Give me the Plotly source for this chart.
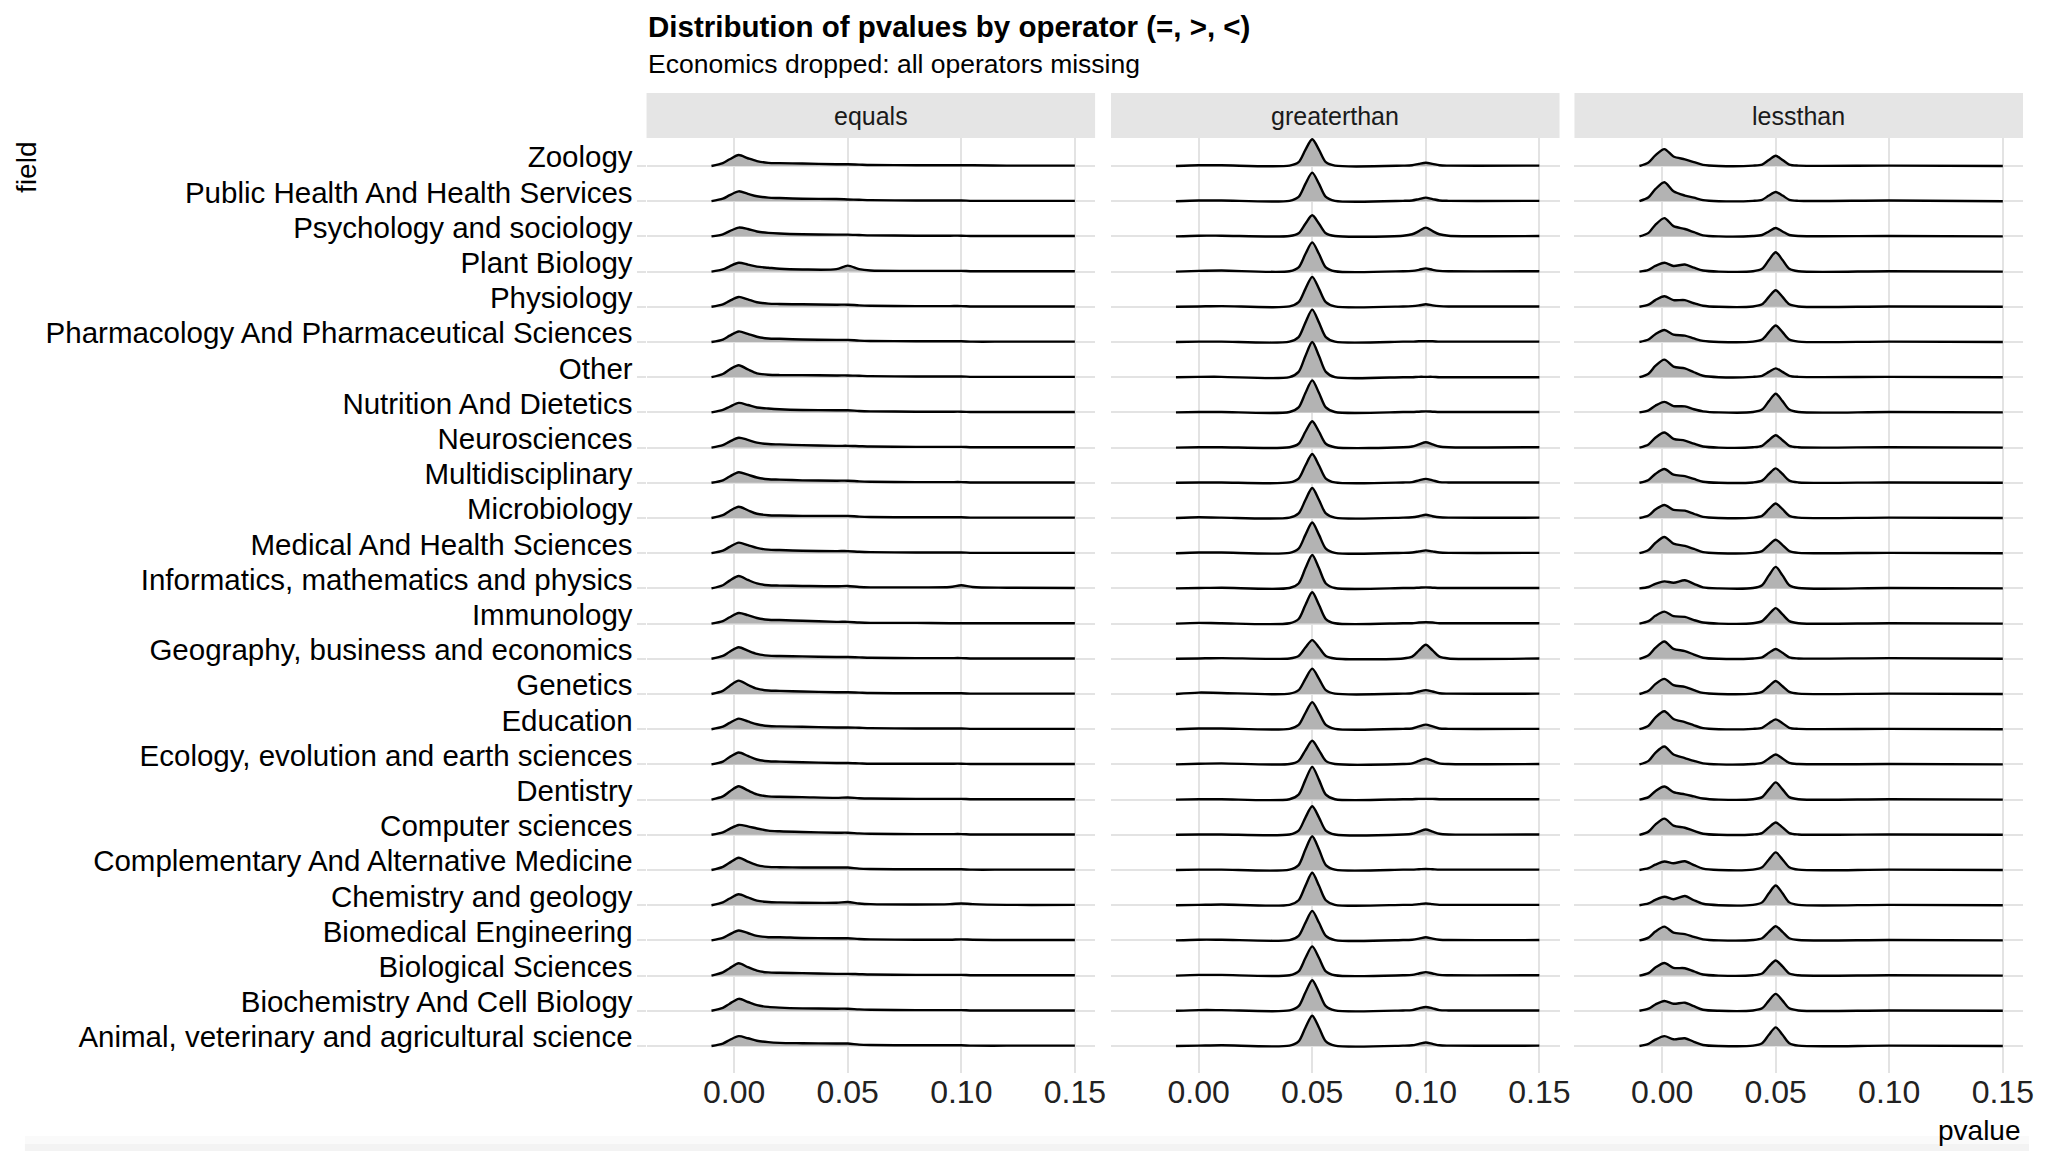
import plotly.graph_objects as go

# the page adds an 8px body margin, so the figure is drawn inside it
PAGE_W, PAGE_H, PAD = 2048, 1159, 8
W, H = PAGE_W - 2 * PAD, PAGE_H - 2 * PAD

# fields, top row first
FIELDS = [
    "Zoology", "Public Health And Health Services", "Psychology and sociology",
    "Plant Biology", "Physiology", "Pharmacology And Pharmaceutical Sciences",
    "Other", "Nutrition And Dietetics", "Neurosciences", "Multidisciplinary",
    "Microbiology", "Medical And Health Sciences",
    "Informatics, mathematics and physics", "Immunology",
    "Geography, business and economics", "Genetics", "Education",
    "Ecology, evolution and earth sciences", "Dentistry", "Computer sciences",
    "Complementary And Alternative Medicine", "Chemistry and geology",
    "Biomedical Engineering", "Biological Sciences",
    "Biochemistry And Cell Biology", "Animal, veterinary and agricultural science",
]
OPERATORS = ["equals", "greaterthan", "lessthan"]

# ridge heights, in % of one row step
X_EQ = [-0.010, -0.005, -0.002, 0.002, 0.006, 0.010, 0.015, 0.020, 0.030, 0.045,
        0.050, 0.055, 0.060, 0.080, 0.095, 0.100, 0.105, 0.120, 0.150]
EQUALS_H = [
    [0, 8, 19, 31, 22, 14, 9, 8, 7, 5, 5, 4, 3, 2, 2, 2, 2, 1, 1],
    [0, 7, 17, 28, 21, 14, 10, 9, 7, 6, 5, 4, 3, 2, 2, 2, 1, 1, 1],
    [0, 6, 15, 25, 21, 14, 10, 8, 6, 5, 5, 4, 3, 2, 2, 2, 1, 1, 1],
    [0, 6, 15, 25, 20, 14, 11, 8, 6, 7, 17, 7, 3, 2, 2, 2, 1, 1, 1],
    [0, 7, 17, 28, 21, 13, 9, 8, 7, 6, 6, 4, 3, 2, 2, 2, 1, 1, 1],
    [0, 7, 18, 30, 23, 15, 10, 9, 7, 6, 6, 4, 3, 2, 2, 2, 1, 1, 1],
    [0, 9, 22, 34, 22, 11, 7, 6, 6, 5, 5, 4, 3, 2, 2, 2, 1, 1, 1],
    [0, 7, 16, 27, 21, 14, 11, 9, 7, 6, 6, 4, 3, 2, 2, 2, 1, 1, 1],
    [0, 7, 17, 28, 22, 14, 10, 9, 7, 5, 5, 4, 3, 2, 2, 2, 1, 1, 1],
    [0, 7, 18, 30, 23, 15, 10, 9, 7, 6, 6, 4, 3, 2, 2, 2, 1, 1, 1],
    [0, 8, 20, 32, 22, 12, 8, 7, 6, 6, 6, 4, 3, 2, 2, 2, 1, 1, 1],
    [0, 7, 18, 30, 23, 15, 10, 9, 7, 6, 6, 4, 3, 2, 2, 2, 1, 1, 1],
    [0, 9, 22, 35, 24, 14, 9, 8, 7, 6, 7, 4, 3, 3, 4, 9, 4, 2, 1],
    [0, 7, 18, 30, 24, 16, 11, 10, 8, 5, 5, 3, 2, 2, 1, 1, 1, 1, 1],
    [0, 8, 20, 33, 23, 14, 9, 8, 7, 5, 5, 4, 3, 2, 2, 2, 1, 1, 1],
    [0, 9, 23, 38, 26, 15, 10, 9, 7, 5, 5, 4, 3, 2, 2, 2, 1, 1, 1],
    [0, 7, 18, 30, 22, 14, 9, 8, 7, 5, 5, 4, 3, 2, 2, 2, 1, 1, 1],
    [0, 8, 21, 34, 24, 14, 9, 8, 6, 4, 4, 3, 2, 2, 2, 2, 1, 1, 1],
    [0, 9, 23, 38, 26, 15, 9, 8, 7, 5, 6, 4, 3, 2, 2, 2, 1, 1, 1],
    [0, 7, 17, 28, 24, 18, 12, 10, 8, 6, 6, 4, 3, 2, 2, 2, 1, 1, 1],
    [0, 9, 21, 35, 24, 14, 9, 8, 7, 7, 7, 4, 3, 2, 2, 2, 1, 1, 1],
    [0, 8, 19, 31, 22, 13, 9, 8, 7, 7, 9, 5, 3, 2, 3, 5, 3, 1, 1],
    [0, 7, 17, 28, 21, 13, 9, 9, 7, 6, 6, 4, 3, 2, 2, 3, 2, 1, 1],
    [0, 9, 21, 35, 24, 14, 9, 8, 7, 5, 5, 4, 3, 2, 2, 2, 1, 1, 1],
    [0, 8, 20, 34, 25, 16, 11, 9, 7, 6, 6, 4, 3, 2, 2, 2, 1, 1, 1],
    [0, 7, 17, 28, 22, 15, 11, 9, 8, 7, 7, 4, 3, 2, 2, 2, 1, 1, 1],
]

X_GT = [-0.010, 0.000, 0.010, 0.040, 0.044, 0.047, 0.050, 0.053, 0.056, 0.060,
        0.090, 0.094, 0.097, 0.100, 0.103, 0.106, 0.110, 0.150]
GREATER_H = [
    [0, 2, 2, 1, 11, 46, 76, 46, 11, 1, 1, 2, 6, 9, 6, 2, 1, 1],
    [0, 2, 2, 1, 12, 49, 81, 49, 12, 1, 1, 2, 6, 10, 6, 2, 1, 1],
    [0, 2, 2, 1, 9, 36, 60, 36, 9, 1, 2, 6, 15, 25, 15, 6, 2, 1],
    [0, 2, 3, 1, 12, 50, 83, 50, 12, 1, 1, 2, 5, 9, 5, 2, 1, 1],
    [0, 1, 2, 1, 13, 51, 85, 51, 13, 1, 1, 2, 4, 7, 4, 2, 1, 1],
    [0, 1, 1, 1, 14, 55, 92, 55, 14, 1, 1, 1, 2, 2, 2, 1, 1, 1],
    [0, 1, 1, 0, 15, 60, 100, 60, 15, 0, 0, 0, 1, 1, 1, 0, 0, 0],
    [0, 1, 1, 1, 14, 55, 91, 55, 14, 1, 1, 1, 2, 3, 2, 1, 1, 1],
    [0, 1, 1, 1, 11, 45, 75, 45, 11, 1, 1, 3, 9, 15, 9, 3, 1, 1],
    [0, 1, 1, 1, 12, 49, 82, 49, 12, 1, 1, 2, 7, 11, 7, 2, 1, 1],
    [0, 2, 1, 1, 13, 51, 85, 51, 13, 1, 1, 2, 5, 9, 5, 2, 1, 1],
    [0, 2, 2, 1, 13, 52, 87, 52, 13, 1, 1, 2, 5, 8, 5, 2, 1, 1],
    [0, 1, 2, 1, 14, 57, 95, 57, 14, 1, 1, 1, 2, 3, 2, 1, 1, 1],
    [0, 2, 1, 1, 13, 53, 89, 53, 13, 1, 1, 1, 3, 4, 3, 1, 1, 1],
    [0, 1, 2, 1, 8, 32, 53, 32, 8, 1, 1, 6, 24, 40, 24, 6, 1, 1],
    [0, 4, 3, 1, 11, 43, 72, 43, 11, 1, 1, 2, 7, 11, 7, 2, 1, 1],
    [0, 2, 2, 1, 12, 46, 77, 46, 12, 1, 1, 2, 8, 13, 8, 2, 1, 1],
    [0, 2, 3, 1, 10, 40, 67, 40, 10, 1, 1, 3, 10, 16, 10, 3, 1, 1],
    [0, 1, 1, 1, 14, 56, 93, 56, 14, 1, 1, 1, 2, 2, 2, 1, 1, 1],
    [0, 1, 1, 1, 12, 49, 81, 49, 12, 1, 1, 3, 9, 15, 9, 3, 1, 1],
    [0, 1, 1, 1, 14, 58, 96, 58, 14, 1, 1, 1, 2, 3, 2, 1, 1, 1],
    [0, 1, 2, 1, 14, 55, 92, 55, 14, 1, 1, 1, 3, 5, 3, 1, 1, 1],
    [0, 2, 2, 1, 13, 50, 84, 50, 13, 1, 1, 2, 5, 9, 5, 2, 1, 1],
    [0, 2, 2, 1, 12, 50, 83, 50, 12, 1, 1, 2, 6, 10, 6, 2, 1, 1],
    [0, 2, 2, 1, 13, 52, 87, 52, 13, 1, 1, 2, 7, 11, 7, 2, 1, 1],
    [0, 1, 2, 1, 13, 52, 86, 52, 13, 1, 1, 2, 6, 10, 6, 2, 1, 1],
]

X_LT = [-0.010, -0.006, -0.003, 0.001, 0.005, 0.010, 0.014, 0.018, 0.025, 0.040,
        0.044, 0.047, 0.050, 0.053, 0.056, 0.060, 0.100, 0.150]
LESS_H = [
    [0, 10, 30, 48, 27, 19, 11, 3, 0, 1, 4, 17, 29, 17, 4, 1, 1, 0],
    [0, 11, 34, 54, 28, 16, 10, 3, 0, 1, 4, 16, 26, 16, 4, 1, 2, 0],
    [0, 10, 33, 52, 29, 21, 12, 3, 0, 1, 4, 14, 24, 14, 4, 1, 1, 0],
    [0, 5, 16, 25, 16, 20, 11, 3, 0, 1, 8, 33, 55, 33, 8, 1, 1, 0],
    [0, 6, 19, 30, 19, 19, 10, 3, 0, 1, 7, 28, 47, 28, 7, 1, 1, 0],
    [0, 7, 22, 34, 21, 18, 10, 3, 0, 1, 7, 28, 47, 28, 7, 1, 1, 0],
    [0, 10, 32, 50, 30, 25, 14, 4, 0, 1, 4, 15, 25, 15, 4, 1, 1, 0],
    [0, 6, 19, 30, 18, 17, 9, 3, 0, 1, 8, 32, 53, 32, 8, 1, 1, 0],
    [0, 9, 28, 43, 25, 20, 11, 3, 0, 1, 5, 21, 35, 21, 5, 1, 1, 0],
    [0, 8, 25, 39, 23, 19, 11, 3, 0, 1, 6, 25, 41, 25, 6, 1, 1, 0],
    [0, 7, 24, 37, 23, 21, 12, 3, 0, 1, 6, 25, 41, 25, 6, 1, 1, 0],
    [0, 9, 29, 46, 27, 21, 12, 3, 0, 1, 6, 23, 38, 23, 6, 1, 1, 0],
    [0, 4, 13, 20, 16, 23, 13, 3, 0, 1, 9, 37, 61, 37, 9, 1, 1, 0],
    [0, 7, 22, 34, 21, 19, 10, 3, 0, 1, 7, 26, 44, 26, 7, 1, 1, 0],
    [0, 10, 31, 49, 28, 22, 12, 3, 0, 1, 4, 17, 28, 17, 4, 1, 2, 0],
    [0, 9, 28, 43, 25, 20, 11, 3, 0, 1, 6, 22, 37, 22, 6, 1, 1, 0],
    [0, 10, 33, 51, 29, 20, 11, 3, 0, 1, 4, 17, 28, 17, 4, 1, 1, 0],
    [0, 10, 33, 51, 28, 18, 10, 3, 0, 1, 4, 17, 28, 17, 4, 1, 1, 0],
    [0, 7, 24, 37, 21, 15, 9, 3, 0, 1, 7, 29, 49, 29, 7, 1, 1, 0],
    [0, 9, 29, 46, 26, 20, 11, 3, 0, 1, 5, 21, 35, 21, 5, 1, 1, 0],
    [0, 5, 15, 24, 19, 25, 14, 4, 0, 1, 8, 30, 50, 30, 8, 1, 1, 0],
    [0, 5, 15, 24, 17, 26, 14, 4, 0, 1, 8, 34, 56, 34, 8, 1, 1, 0],
    [0, 8, 25, 39, 22, 18, 10, 3, 0, 1, 6, 24, 40, 24, 6, 1, 1, 0],
    [0, 7, 23, 36, 22, 21, 12, 3, 0, 1, 6, 26, 43, 26, 6, 1, 1, 0],
    [0, 6, 18, 28, 20, 23, 13, 3, 0, 1, 7, 29, 48, 29, 7, 1, 1, 0],
    [0, 6, 18, 28, 19, 22, 12, 3, 0, 1, 8, 32, 53, 32, 8, 1, 1, 0],
]

X_TICKS = [0.0, 0.05, 0.10, 0.15]
X_TICK_TEXT = ["0.00", "0.05", "0.10", "0.15"]

FONT = "Liberation Sans, Arial, Helvetica, sans-serif"
GRID = "#e3e3e3"
FILL = "#b3b3b3"


# page pixel -> paper fraction
def px_x(p):
    return (p - PAD) / W


def px_y(p):
    return 1 - (p - PAD) / H


panels = [
    (X_EQ, EQUALS_H, (650, 1101)),
    (X_GT, GREATER_H, (1117, 1568)),
    (X_LT, LESS_H, (1583, 2034)),
]

fig = go.Figure()
n = len(FIELDS)

for k, (xs, heights, _) in enumerate(panels):
    xa = "x" if k == 0 else f"x{k + 1}"
    ya = "y" if k == 0 else f"y{k + 1}"
    for i, row in enumerate(heights):
        base = n - i
        fig.add_trace(go.Scatter(
            x=xs, y=[base] * len(xs), xaxis=xa, yaxis=ya, mode="lines",
            line=dict(width=0), hoverinfo="skip", showlegend=False))
        fig.add_trace(go.Scatter(
            x=xs, y=[base + h / 100 for h in row], xaxis=xa, yaxis=ya,
            mode="lines", fill="tonexty", fillcolor=FILL,
            line=dict(color="black", width=2.4, shape="spline", smoothing=0.8),
            name=FIELDS[i], showlegend=False))

y_dom = [px_y(1073), px_y(138)]
y_range = [0.233, 26.795]
layout = dict(
    width=W, height=H,
    margin=dict(l=0, r=0, t=0, b=0),
    paper_bgcolor="white", plot_bgcolor="white",
    font=dict(family=FONT, color="black"),
    showlegend=False,
)
for k, (_, _, (x0, x1)) in enumerate(panels):
    sx = "" if k == 0 else str(k + 1)
    layout[f"xaxis{sx}"] = dict(
        domain=[px_x(x0), px_x(x1)], range=[-0.0386, 0.1589],
        anchor=f"y{sx}", tickvals=X_TICKS, ticktext=X_TICK_TEXT,
        showgrid=True, gridcolor=GRID, gridwidth=2, zeroline=False,
        showline=False, ticks="", ticklabelstandoff=-3,
        tickfont=dict(size=32, color="#222222"),
    )
    layout[f"yaxis{sx}"] = dict(
        domain=y_dom, range=y_range, anchor=f"x{sx}",
        tickvals=list(range(1, n + 1)),
        ticktext=FIELDS[::-1] if k == 0 else None,
        showticklabels=(k == 0),
        showgrid=True, gridcolor=GRID, gridwidth=2, zeroline=False,
        showline=False,
        ticks="outside" if k == 0 else "", ticklen=9, tickcolor=GRID, tickwidth=2,
        ticklabelshift=-9, ticklabelstandoff=-2,
        tickfont=dict(size=29.5, color="black"),
    )
fig.update_layout(**layout)

# facet strips
for k, (_, _, (x0, x1)) in enumerate(panels):
    fig.add_shape(type="rect", xref="paper", yref="paper",
                  x0=px_x(x0), x1=px_x(x1), y0=px_y(138), y1=px_y(93),
                  fillcolor="#e5e5e5", line=dict(width=0), layer="below")
    fig.add_annotation(x=px_x((x0 + x1) / 2), y=px_y(115.5), xref="paper", yref="paper",
                       text=OPERATORS[k], showarrow=False, xanchor="center", yanchor="middle",
                       font=dict(size=25, color="#1a1a1a"))

# faint shadow at the bottom edge of the picture
for y0, y1, c in [(1136, 1144, "#fafafa"), (1144, 1151, "#f3f3f3")]:
    fig.add_shape(type="rect", xref="paper", yref="paper",
                  x0=px_x(25), x1=1, y0=px_y(y1), y1=px_y(y0),
                  fillcolor=c, line=dict(width=0), layer="below")

fig.add_annotation(x=px_x(649), y=px_y(27), xref="paper", yref="paper",
                   text="<b>Distribution of pvalues by operator (=, >, <)</b>",
                   showarrow=False, xanchor="left", yanchor="middle",
                   font=dict(size=29.5, color="black"))
fig.add_annotation(x=px_x(649), y=px_y(64), xref="paper", yref="paper",
                   text="Economics dropped: all operators missing",
                   showarrow=False, xanchor="left", yanchor="middle",
                   font=dict(size=26.5, color="black"))
fig.add_annotation(x=px_x(26), y=px_y(167), xref="paper", yref="paper",
                   text="field", textangle=-90, showarrow=False,
                   xanchor="center", yanchor="middle",
                   font=dict(size=28, color="black"))
fig.add_annotation(x=px_x(2034), y=px_y(1130), xref="paper", yref="paper",
                   text="pvalue", showarrow=False, xanchor="right", yanchor="middle",
                   font=dict(size=28, color="black"))

fig.write_html("out.html")
